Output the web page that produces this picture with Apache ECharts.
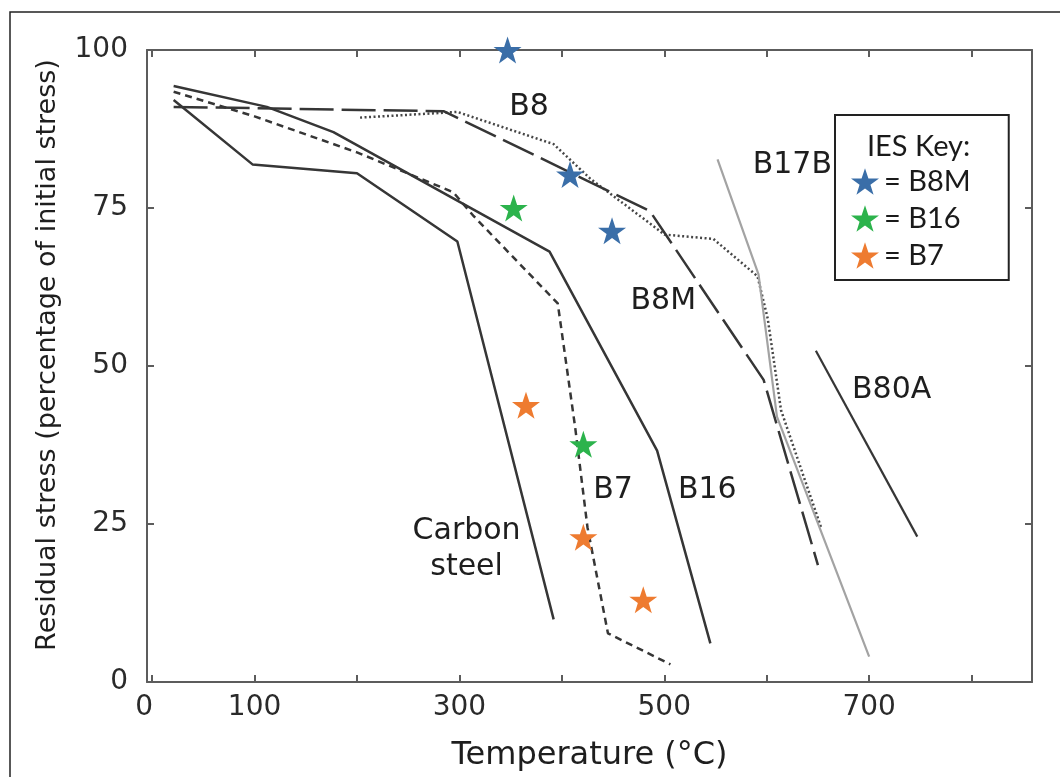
<!DOCTYPE html>
<html>
<head>
<meta charset="utf-8">
<title>Residual stress vs temperature</title>
<script src="https://cdn.jsdelivr.net/npm/echarts@6/dist/echarts.min.js"></script>
<style>
  html, body { margin: 0; padding: 0; background: #fff; }
  #chart { width: 1060px; height: 777px; }
</style>
</head>
<body>
<div id="chart"></div>
<script>
// Residual stress curves, [temperature °C, % of initial stress]
const carbonSteel = [[21, 92.1], [98, 81.9], [200, 80.5], [298, 69.7], [392, 9.9]];
const b16 = [[21, 94.3], [112, 91.0], [177, 87.0], [388, 68.1], [493, 36.6], [545, 6.1]];
const b7 = [[21, 93.4], [100, 89.5], [200, 83.8], [294, 77.5], [314, 73.7], [396, 59.9], [413, 40.3], [425, 24.5], [445, 7.7], [506, 2.8]];
const b8 = [[203, 89.3], [298, 90.2], [392, 85.1], [428, 79.6], [493, 71.7], [500, 70.8], [548, 70.1], [591, 64.2], [601, 57.5], [614, 43.0], [653, 24.5]];
const b8m = [[21, 91.0], [285, 90.3], [486, 74.5], [597, 47.8], [650, 18.5]];
const b17b = [[552, 82.7], [592, 64.5], [610, 42.0], [700, 4.0]];
const b80a = [[648, 52.4], [747, 23.0]];

// IES test points
const iesB8M = [[347, 100], [408, 80.3], [449, 71.4]];
const iesB16 = [[353, 75.0], [421, 37.6]];
const iesB7 = [[365, 43.8], [421, 22.9], [479.5, 13.0]];

// Curve labels placed at data coordinates
const curveLabels = [
  { name: 'B8', value: [368, 90.9] },
  { name: 'B17B', value: [625, 81.8] },
  { name: 'B8M', value: [499, 60.2] },
  { name: 'B80A', value: [722, 46.1] },
  { name: 'B7', value: [450, 30.3] },
  { name: 'B16', value: [542, 30.3] },
  { name: 'Carbon\nsteel', value: [307, 21.0] }
];

const xTickValues = [0, 100, 200, 300, 400, 500, 600, 700, 800];
const xLabelValues = [0, 100, 300, 500, 700];
const yTickValues = [0, 25, 50, 75, 100];

const STAR = 'path://M50,0 L61.8,35.1 L98.1,35.1 L68.7,56.7 L79.4,91.3 L50,70 L20.6,91.3 L31.3,56.7 L1.9,35.1 L38.2,35.1 Z';
const FONT = 'DejaVu Sans';
const DARK = '#363636';
const AXIS = '#5c5c5c';
const INK = '#1e1e1e';

function curve(name, data, color, type, width) {
  return {
    name: name, type: 'line', data: data, showSymbol: false, symbol: 'none',
    lineStyle: { color: color, width: width, type: type, cap: 'butt' },
    silent: true, z: 2
  };
}
function stars(name, data, color) {
  return {
    name: name, type: 'scatter', data: data, symbol: STAR, symbolSize: [28, 27],
    itemStyle: { color: color, opacity: 1 }, z: 5
  };
}

const axisBase = {
  type: 'value', min: -5, max: 859,
  axisLine: { show: true, onZero: false, lineStyle: { color: AXIS, width: 2 } },
  axisTick: { show: true, inside: true, length: 7, customValues: xTickValues, lineStyle: { color: AXIS, width: 2 } },
  splitLine: { show: false }
};

const chart = echarts.init(document.getElementById('chart'), null, { renderer: 'canvas' });
chart.setOption({
  backgroundColor: '#ffffff',
  animation: false,
  grid: { left: 147, right: 28, top: 50, bottom: 91, containLabel: false },
  xAxis: [
    Object.assign({}, axisBase, {
      position: 'bottom',
      name: 'Temperature (°C)', nameLocation: 'middle', nameGap: 58,
      nameTextStyle: { fontFamily: FONT, fontSize: 32, color: INK },
      axisLabel: {
        show: true, customValues: xLabelValues, margin: 12,
        fontFamily: FONT, fontSize: 28, color: '#2a2a2a',
        formatter: function (v) { return v === 0 ? '{z|0}' : String(v); },
        rich: { z: { fontFamily: FONT, fontSize: 28, color: '#2a2a2a', padding: [0, 16, 0, 0] } }
      }
    }),
    Object.assign({}, axisBase, { position: 'top', axisLabel: { show: false } })
  ],
  yAxis: [
    {
      type: 'value', min: 0, max: 100, position: 'left',
      name: 'Residual stress (percentage of initial stress)', nameLocation: 'middle', nameGap: 86,
      nameTextStyle: { fontFamily: FONT, fontSize: 27, color: INK, padding: [0, 0, 0, 22] },
      axisLine: { show: true, onZero: false, lineStyle: { color: AXIS, width: 2 } },
      axisTick: { show: true, inside: true, length: 7, customValues: yTickValues, lineStyle: { color: AXIS, width: 2 } },
      axisLabel: { show: true, customValues: yTickValues, margin: 19, fontFamily: FONT, fontSize: 28, color: '#2a2a2a' },
      splitLine: { show: false }
    },
    {
      type: 'value', min: 0, max: 100, position: 'right',
      axisLine: { show: true, onZero: false, lineStyle: { color: AXIS, width: 2 } },
      axisTick: { show: true, inside: true, length: 7, customValues: yTickValues, lineStyle: { color: AXIS, width: 2 } },
      axisLabel: { show: false },
      splitLine: { show: false }
    }
  ],
  legend: {
    show: true, orient: 'vertical', left: 835, top: 115,
    data: ['B8M', 'B16', 'B7'],
    formatter: '= {name}',
    itemWidth: 28, itemHeight: 27, itemGap: 8,
    padding: [52, 38, 10, 16],
    borderColor: '#222', borderWidth: 2, backgroundColor: '#fff',
    textStyle: { fontFamily: 'Lato', fontSize: 29, color: '#1a1a1a' },
    selectedMode: false
  },
  graphic: [
    {
      type: 'rect', z: -10, silent: true,
      shape: { x: 10, y: 12, width: 1100, height: 900 },
      style: { fill: 'none', stroke: '#222', lineWidth: 1.5 }
    },
    {
      type: 'text', z: 100, silent: true, left: 867, top: 132,
      style: { text: 'IES Key:', fontFamily: 'Lato', fontSize: 29, fill: '#1a1a1a' }
    }
  ],
  series: [
    curve('Carbon steel', carbonSteel, DARK, 'solid', 2.5),
    curve('B16 curve', b16, DARK, 'solid', 2.5),
    curve('B7 curve', b7, DARK, [7, 5], 2.5),
    curve('B8 curve', b8, '#464646', [2, 2.5], 2.5),
    curve('B8M curve', b8m, DARK, [34, 8], 2.5),
    curve('B17B curve', b17b, '#a3a3a3', 'solid', 2.2),
    curve('B80A curve', b80a, DARK, 'solid', 2.2),
    {
      name: 'labels', type: 'scatter', data: curveLabels, symbolSize: 1,
      itemStyle: { color: 'rgba(0,0,0,0)', opacity: 1 }, silent: true, z: 4,
      label: {
        show: true, position: 'inside', formatter: '{b}',
        fontFamily: FONT, fontSize: 30, color: INK, lineHeight: 36, opacity: 1
      }
    },
    stars('B8M', iesB8M, '#3a6ea8'),
    stars('B16', iesB16, '#2cb34c'),
    stars('B7', iesB7, '#ee7b30')
  ]
});
</script>
</body>
</html>
